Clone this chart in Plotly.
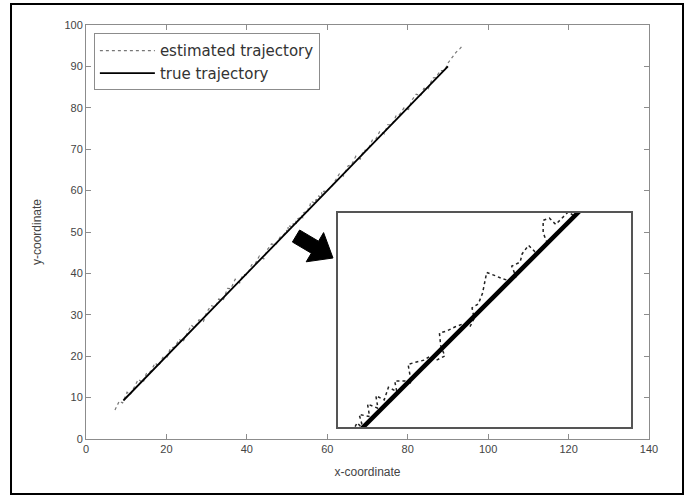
import plotly.graph_objects as go

# ---- data ----
true_x = [9.3, 30.0, 50.0, 70.0, 90.0]
true_y = [9.3, 30.0, 50.0, 70.0, 90.0]

est_x = [7.2, 8.3, 9.1, 10.2, 11.0, 12.1, 13.0, 14.2, 15.0, 16.1, 17.2, 18.0, 19.1, 20.2,
         21.0, 22.1, 23.2, 24.0, 25.1, 26.2, 27.0, 28.1, 29.2, 30.0, 31.1, 32.2, 33.0, 34.1,
         35.2, 36.0, 37.1, 38.2, 39.0, 40.1, 41.2, 42.0, 43.1, 44.2, 45.0, 46.1, 47.2, 48.3,
         49.4, 49.7, 50.0, 49.8, 50.3, 50.2, 50.7, 50.6, 51.0, 51.2, 51.6, 51.5, 52.0, 52.3,
         52.14, 52.5, 52.9, 53.2, 53.5, 53.9, 53.7, 53.64, 54.0, 54.4, 54.75, 55.1, 55.3,
         55.2, 55.5, 55.7, 55.9, 56.3, 56.65, 57.0, 57.3, 57.1, 57.5, 57.6, 57.9, 58.2, 58.5,
         58.8, 58.6, 58.6, 58.9, 59.2, 59.5, 59.8, 60.1, 60.4, 60.8, 61.1,
         62.0, 63.1, 64.0, 65.2, 66.0, 67.1, 68.2, 69.0, 70.1, 71.2, 72.0, 73.1, 74.2, 75.0,
         76.1, 77.2, 78.0, 79.1, 80.2, 81.0, 82.1, 83.2, 84.0, 85.1, 86.2, 87.0, 88.1, 89.2,
         90.0, 91.0, 92.0, 93.0, 93.8]
est_y = [7.0, 9.2, 8.7, 11.3, 10.7, 12.8, 14.4, 13.6, 15.8, 16.3, 18.4, 17.5, 19.7, 19.8,
         22.0, 22.2, 24.1, 23.3, 25.6, 27.5, 26.8, 28.8, 28.4, 30.6, 32.2, 31.9, 33.8, 33.5,
         36.4, 36.3, 38.6, 37.7, 39.7, 39.7, 42.1, 42.2, 44.2, 43.5, 45.6, 47.1, 46.9, 48.8,
         49.6, 50.2, 49.9, 50.6, 50.5, 51.1, 50.9, 51.5, 51.3, 51.9, 51.7, 52.2, 52.2, 52.1,
         53.0, 53.1, 53.2, 53.4, 53.2, 53.4, 53.9, 54.5, 54.6, 54.8, 54.93, 54.8, 55.2,
         55.7, 55.9, 56.4, 57.4, 57.25, 57.1, 57.0, 57.2, 57.7, 57.9, 58.3, 58.7, 58.4, 58.5,
         58.8, 59.3, 59.9, 60.0, 59.7, 60.0, 60.3, 60.1, 60.5, 60.9, 61.0,
         62.4, 64.2, 63.5, 66.0, 66.2, 68.3, 67.6, 69.7, 69.8, 72.2, 72.3, 74.4, 73.7, 75.9,
         75.9, 78.3, 78.4, 80.0, 79.6, 81.8, 83.3, 82.9, 84.7, 84.6, 87.2, 87.3, 89.0, 89.0,
         90.8, 92.0, 93.4, 94.3, 95.2]

x_ticks = [0, 20, 40, 60, 80, 100, 120, 140]
y_ticks = [0, 10, 20, 30, 40, 50, 60, 70, 80, 90, 100]

inset_x_range = [48.8, 62.8]
inset_y_range = [50.0, 60.25]

FONT = "Liberation Sans, Arial, sans-serif"

fig = go.Figure()

# main axes traces
fig.add_trace(go.Scatter(x=est_x, y=est_y, mode="lines", name="estimated trajectory",
                         line=dict(color="#777777", width=1.2, dash="dot")))
fig.add_trace(go.Scatter(x=true_x, y=true_y, mode="lines", name="true trajectory",
                         line=dict(color="black", width=1.8)))

# inset traces
fig.add_trace(go.Scatter(x=est_x, y=est_y, mode="lines", showlegend=False,
                         xaxis="x2", yaxis="y2",
                         line=dict(color="#222222", width=1.5, dash="dot")))
fig.add_trace(go.Scatter(x=true_x, y=true_y, mode="lines", showlegend=False,
                         xaxis="x2", yaxis="y2",
                         line=dict(color="black", width=4.5)))

axis_common = dict(showgrid=False, zeroline=False, showline=True, mirror="ticks",
                   linecolor="#8c8c8c", linewidth=1, ticks="inside", ticklen=5,
                   tickcolor="#8c8c8c", tickfont=dict(size=11, color="#444", family=FONT))

fig.update_layout(
    width=694, height=497,
    margin=dict(l=86, r=45, t=25, b=58),
    paper_bgcolor="white", plot_bgcolor="white",
    font=dict(family=FONT, color="#333"),
    xaxis=dict(range=[0, 140], tickvals=x_ticks, domain=[0, 1],
               title=dict(text="x-coordinate", font=dict(size=12, color="#444"), standoff=13),
               **axis_common),
    yaxis=dict(range=[0, 100], tickvals=y_ticks, domain=[0, 1],
               title=dict(text="y-coordinate", font=dict(size=12, color="#444"), standoff=20),
               **axis_common),
    xaxis2=dict(domain=[0.448, 0.968], anchor="y2", range=inset_x_range,
                showticklabels=False, ticks="", showgrid=False, zeroline=False,
                showline=True, mirror=True, linecolor="#555", linewidth=2),
    yaxis2=dict(domain=[0.029, 0.546], anchor="x2", range=inset_y_range,
                showticklabels=False, ticks="", showgrid=False, zeroline=False,
                showline=True, mirror=True, linecolor="#555", linewidth=2),
    legend=dict(x=0.014, y=0.98, xanchor="left", yanchor="top",
                bgcolor="white", bordercolor="#8c8c8c", borderwidth=1,
                font=dict(size=15, color="#333", family="DejaVu Sans, sans-serif"),
                tracegroupgap=0, itemwidth=55),
    showlegend=True,
)

# inset background
fig.add_shape(type="rect", xref="x2 domain", yref="y2 domain", x0=0, x1=1, y0=0, y1=1,
              fillcolor="white", line=dict(width=0), layer="below")

# block arrow pointing to the inset
fig.add_shape(type="path", xref="paper", yref="paper",
              path="M0.3666,0.4758 L0.3794,0.5048 L0.4130,0.4778 L0.4220,0.4986 "
                   "L0.4387,0.4372 L0.3911,0.4280 L0.4002,0.4488 Z",
              fillcolor="black", line=dict(color="black", width=1))

# outer frame
fig.add_shape(type="rect", xref="paper", yref="paper",
              x0=-0.1332, x1=1.0604, y0=-0.1329, y1=1.0507,
              line=dict(color="black", width=2))

fig.write_html("out.html", config={"displayModeBar": False},
               post_script="document.body.style.margin='0';")
